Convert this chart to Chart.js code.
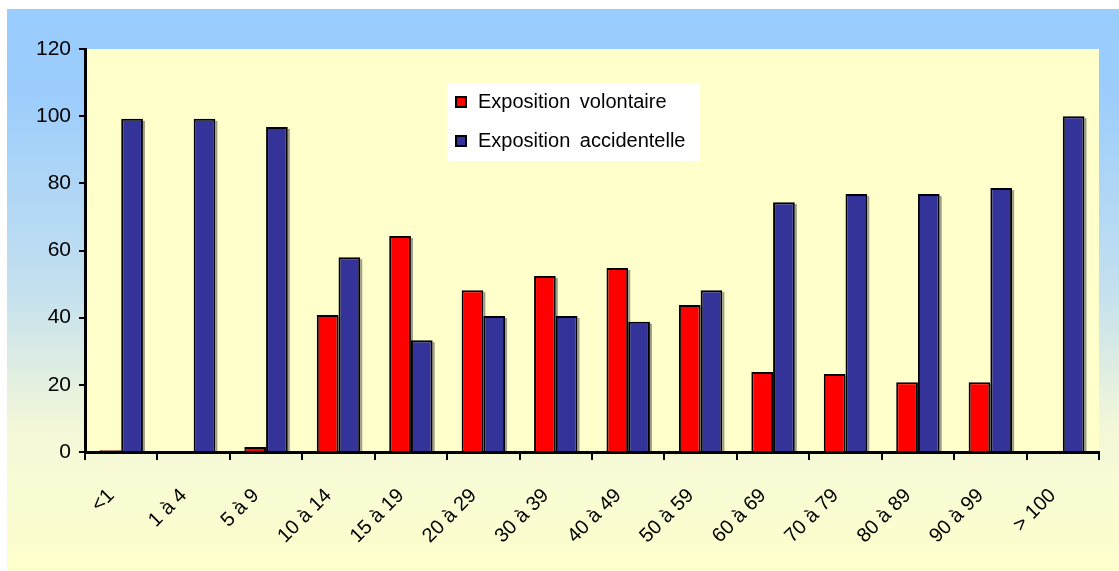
<!DOCTYPE html>
<html>
<head>
<meta charset="utf-8">
<script src="https://cdn.jsdelivr.net/npm/chart.js@4/dist/chart.umd.min.js"></script>
<style>
    html, body { margin: 0; padding: 0; background: #fff; }
    #wrap { position: absolute; left: 7px; top: 9px; width: 1112px; height: 562px; }
</style>
</head>
<body>
<div id="wrap"><canvas id="c"></canvas></div>
<script>
    const categories = ['<1', '1 à 4', '5 à 9', '10 à 14', '15 à 19', '20 à 29', '30 à 39', '40 à 49', '50 à 59', '60 à 69', '70 à 79', '80 à 89', '90 à 99', '> 100'];
    const volontaire = [0.5, 0, 1.5, 40.8, 64.3, 48.2, 52.4, 54.8, 43.8, 23.8, 23.2, 20.8, 20.8, 0];
    const accidentelle = [99.2, 99.2, 96.8, 58, 33.3, 40.5, 40.5, 38.8, 48.2, 74.4, 76.8, 76.8, 78.6, 100];
    const yTicks = [0, 20, 40, 60, 80, 100, 120];

    const family = '"Liberation Sans", Arial, sans-serif';

    //background gradient + plot area fill
    const backdrop = {
        id: 'backdrop',
        beforeDraw(chart){
            const ctx = chart.ctx;
            const a = chart.chartArea;
            const g = ctx.createLinearGradient(0, 0, 0, chart.height);
            g.addColorStop(0, '#99ccff');
            g.addColorStop(0.15, '#9ccdfc');
            g.addColorStop(0.5, '#c4e0ef');
            g.addColorStop(0.75, '#f4f8d8');
            g.addColorStop(1, '#ffffcc');
            ctx.save();
            ctx.fillStyle = g;
            ctx.fillRect(0, 0, chart.width, chart.height);
            ctx.fillStyle = '#ffffcc';
            ctx.fillRect(a.left, a.top, a.right - a.left, a.bottom - a.top);
            ctx.restore();
        }
    };

    //small grey shadow on the right of each bar
    const barShadow = {
        id: 'barShadow',
        beforeDatasetsDraw(chart){
            const ctx = chart.ctx;
            ctx.save();
            ctx.fillStyle = 'rgba(90,90,90,0.6)';
            chart.data.datasets.forEach((ds, i) => {
                chart.getDatasetMeta(i).data.forEach(bar => {
                    if(bar.base - bar.y < 1) return;
                    const r = bar.x + bar.width / 2;
                    ctx.fillRect(r, bar.y + 2, 2, bar.base - bar.y - 2);
                });
            });
            ctx.restore();
        }
    };

    //legend box drawn inside the plot
    const legendBox = {
        id: 'legendBox',
        afterDraw(chart){
            const ctx = chart.ctx;
            const x = 440, y = 74;
            ctx.save();
            ctx.fillStyle = '#ffffff';
            ctx.fillRect(x, y, 253, 78);
            ctx.font = '20px ' + family;
            ctx.textBaseline = 'middle';
            if('wordSpacing' in ctx) ctx.wordSpacing = '4px';
            chart.data.datasets.forEach((ds, i) => {
                const cy = y + 19 + i * 39;
                ctx.fillStyle = '#000';
                ctx.fillRect(x + 8, cy - 6, 12, 12);
                ctx.fillStyle = ds.backgroundColor;
                ctx.fillRect(x + 10, cy - 4, 8, 8);
                ctx.fillStyle = '#000';
                ctx.fillText(ds.label, x + 31, cy);
            });
            ctx.restore();
        }
    };

    new Chart(document.getElementById('c'), {
        type: 'bar',
        data: {
            labels: categories,
            datasets: [
                {label: 'Exposition volontaire', data: volontaire, backgroundColor: '#ff0000', borderColor: '#000', borderWidth: 2},
                {label: 'Exposition accidentelle', data: accidentelle, backgroundColor: '#333399', borderColor: '#000', borderWidth: 2}
            ]
        },
        options: {
            responsive: true,
            maintainAspectRatio: false,
            animation: false,
            layout: { padding: { top: 40, right: 20, left: 0, bottom: 0 } },
            datasets: { bar: { categoryPercentage: 0.6, barPercentage: 1 } },
            plugins: {
                legend: { display: false },
                tooltip: { enabled: false }
            },
            scales: {
                x: {
                    afterFit(s){ s.height = 119; },
                    grid: { drawOnChartArea: false, drawTicks: true, tickLength: 8, color: '#000', lineWidth: 2, offset: true },
                    border: { display: true, color: '#000', width: 3 },
                    ticks: { color: '#000', font: { family: family, size: 20 }, maxRotation: 45, minRotation: 45, padding: 24, labelOffset: -10 }
                },
                y: {
                    min: 0,
                    max: 120,
                    afterFit(s){ s.width = 78; },
                    afterBuildTicks(s){ s.ticks = yTicks.map(v => ({value: v})); },
                    grid: { drawOnChartArea: false, drawTicks: true, tickLength: 6, color: '#000', lineWidth: 2 },
                    border: { display: true, color: '#000', width: 3 },
                    ticks: { color: '#000', font: { family: family, size: 21 }, padding: 8 }
                }
            }
        },
        plugins: [backdrop, barShadow, legendBox]
    });
</script>
</body>
</html>
